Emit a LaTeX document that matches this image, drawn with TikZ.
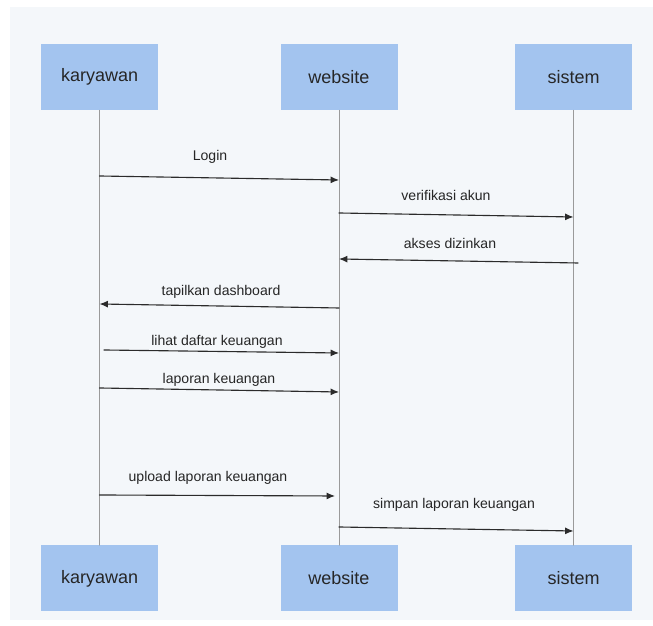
\documentclass[tikz,border=0pt]{standalone}
\usepackage{fontspec}
\setmainfont{Liberation Sans}
\usepackage{tikz}
\usetikzlibrary{arrows.meta}
\definecolor{bgpanel}{HTML}{F4F7FA}
\definecolor{actorfill}{HTML}{A3C4EF}
\definecolor{lifegray}{HTML}{9A9A9A}
\definecolor{msgdark}{HTML}{2B2B2B}
\tikzset{
  every picture/.style={line join=round, line cap=round, >=Latex},
  actor/.style={fill=actorfill, minimum width=2.925cm, minimum height=1.65cm, inner sep=0pt, font=\fontsize{12.8}{15}\selectfont, text=black!85},
  lifeline/.style={line width=0.5pt, lifegray},
  msg/.style={-{Latex[length=6pt,width=5pt]}, line width=0.8pt, msgdark},
  msglabel/.style={font=\fontsize{10}{12}\selectfont, text=black!85, inner sep=0pt},
}

\begin{document}
\begin{tikzpicture}
\useasboundingbox (0.000,0.000) rectangle (16.325,15.650);
\fill[bgpanel](0.250,0.150) rectangle (16.325,15.475);
% actors
\node[actor] (karTop) at (2.488,13.725) {karyawan};
\node[actor] (webTop) at (8.475,13.725) {website};
\node[actor] (sisTop) at (14.338,13.725) {sistem};
\node[actor] (karBot) at (2.488,1.188) {karyawan};
\node[actor] (webBot) at (8.475,1.188) {website};
\node[actor] (sisBot) at (14.338,1.188) {sistem};
% lifelines
\draw[lifeline](karTop.south)--(karBot.north);
\draw[lifeline](webTop.south)--(webBot.north);
\draw[lifeline](sisTop.south)--(sisBot.north);
% message ends
\coordinate (loginA) at (2.488,11.250);
\coordinate (loginB) at (8.475,11.150);
\coordinate (verifA) at (8.475,10.325);
\coordinate (verifB) at (14.338,10.225);
\coordinate (aksesA) at (14.450,9.075);
\coordinate (aksesB) at (8.475,9.175);
\coordinate (dashA) at (8.475,7.950);
\coordinate (dashB) at (2.488,8.050);
\coordinate (lihatA) at (2.600,6.900);
\coordinate (lihatB) at (8.475,6.825);
\coordinate (lapA) at (2.488,5.950);
\coordinate (lapB) at (8.475,5.850);
\coordinate (uploadA) at (2.488,3.275);
\coordinate (uploadB) at (8.375,3.250);
\coordinate (simpanA) at (8.475,2.475);
\coordinate (simpanB) at (14.338,2.375);
% messages
\draw[msg](loginA)--(loginB);
\node[msglabel] (loginLbl) at (5.250,11.725) {Login};
\draw[msg](verifA)--(verifB);
\node[msglabel] (verifLbl) at (11.150,10.775) {verifikasi akun};
\draw[msg](aksesA)--(aksesB);
\node[msglabel] (aksesLbl) at (11.250,9.575) {akses dizinkan};
\draw[msg](dashA)--(dashB);
\node[msglabel] (dashLbl) at (5.525,8.350) {tapilkan dashboard};
\draw[msg](lihatA)--(lihatB);
\node[msglabel] (lihatLbl) at (5.425,7.100) {lihat daftar keuangan};
\draw[msg](lapA)--(lapB);
\node[msglabel] (lapLbl) at (5.475,6.150) {laporan keuangan};
\draw[msg](uploadA)--(uploadB);
\node[msglabel] (uploadLbl) at (5.200,3.700) {upload laporan keuangan};
\draw[msg](simpanA)--(simpanB);
\node[msglabel] (simpanLbl) at (11.350,3.025) {simpan laporan keuangan};
\end{tikzpicture}
\end{document}
